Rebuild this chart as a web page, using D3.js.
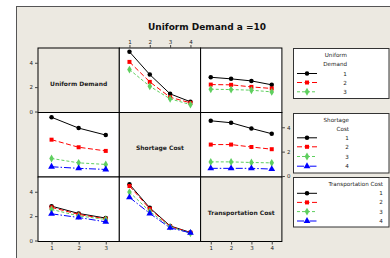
<!DOCTYPE html>
<html>
<head>
<meta charset="utf-8">
<script src="https://cdn.jsdelivr.net/npm/d3@7"></script>
<style>
  body { margin: 0; background: #fff; }
  svg { display: block; font-family: "DejaVu Sans", sans-serif; }
</style>
</head>
<body>
<svg id="chart" width="390" height="258"></svg>
<script>
const demandLevels = [1, 2, 3];
const shortageLevels = [1, 2, 3, 4];
const transportLevels = [1, 2, 3, 4];
const yTicks = [0, 2, 4];

const factorNames = ["Uniform Demand", "Shortage Cost", "Transportation Cost"];
const legendTitles = [["Uniform", "Demand"], ["Shortage", "Cost"], ["Transportation Cost"]];

// each list: one series per level of the row factor, values over the column factor
const demandByShortage = [
  [4.9, 3.03, 1.45, 0.8],
  [4.07, 2.43, 1.17, 0.71],
  [3.44, 2.07, 1.04, 0.57]
];
const demandByTransport = [
  [2.81, 2.68, 2.51, 2.19],
  [2.21, 2.19, 2.02, 1.89],
  [1.83, 1.8, 1.75, 1.61]
];
const shortageByDemand = [
  [4.82, 3.93, 3.36],
  [2.98, 2.36, 2.06],
  [1.44, 1.08, 0.95],
  [0.76, 0.63, 0.54]
];
const shortageByTransport = [
  [4.53, 4.37, 3.9, 3.47],
  [2.58, 2.58, 2.38, 2.2],
  [1.16, 1.16, 1.11, 1.08],
  [0.63, 0.63, 0.63, 0.57]
];
const transportByDemand = [
  [2.82, 2.22, 1.84],
  [2.72, 2.14, 1.78],
  [2.55, 2.02, 1.73],
  [2.19, 1.89, 1.53]
];
const transportByShortage = [
  [4.61, 2.68, 1.2, 0.66],
  [4.47, 2.6, 1.16, 0.64],
  [3.97, 2.39, 1.12, 0.6],
  [3.54, 2.22, 1.04, 0.63]
];

const levels = [demandLevels, shortageLevels, transportLevels];
const cells = {
  "0-1": demandByShortage, "0-2": demandByTransport,
  "1-0": shortageByDemand, "1-2": shortageByTransport,
  "2-0": transportByDemand, "2-1": transportByShortage
};

const colors = ["#000000", "#ff0000", "#5fcf5f", "#0000ff"];
const dashes = [null, "5,2.5", "3,2", "7,2,1.5,2"];
const symbols = [d3.symbolCircle, d3.symbolSquare, d3.symbolDiamond, d3.symbolTriangle];
const symSizes = [16, 16, 18, 20];
const beige = "#ece9e1";

const svg = d3.select("#chart");

// outer frame
svg.append("rect").attr("x", 16.5).attr("y", 6.5).attr("width", 400).attr("height", 270)
  .attr("fill", beige).attr("stroke", "#555").attr("stroke-width", 1);

svg.append("text").attr("x", 207).attr("y", 29.5).attr("text-anchor", "middle")
  .attr("font-size", 9).attr("font-weight", "bold").attr("fill", "#111")
  .text("Uniform Demand a =10");

const gx0 = 38, gy0 = 48, colW = 81.3, rowH = 64.5;

const xScales = levels.map((lv, c) => d3.scalePoint()
  .domain(lv).range([gx0 + c * colW, gx0 + (c + 1) * colW]).padding(0.5));
const yScales = [0, 1, 2].map(r => d3.scaleLinear()
  .domain([-0.08, 5.21]).range([gy0 + (r + 1) * rowH, gy0 + r * rowH]));

// panels
for (let r = 0; r < 3; r++) {
  for (let c = 0; c < 3; c++) {
    svg.append("rect")
      .attr("x", gx0 + c * colW).attr("y", gy0 + r * rowH)
      .attr("width", colW).attr("height", rowH)
      .attr("fill", r === c ? beige : "#fff")
      .attr("stroke", "#000").attr("stroke-width", 1);
    if (r === c) {
      svg.append("text")
        .attr("x", gx0 + c * colW + colW / 2).attr("y", gy0 + r * rowH + rowH / 2 + 5.5)
        .attr("text-anchor", "middle").attr("font-size", 6).attr("font-weight", "bold")
        .attr("fill", "#222").text(factorNames[r]);
    }
  }
}

// lines
Object.keys(cells).forEach(key => {
  const [r, c] = key.split("-").map(Number);
  const x = xScales[c], y = yScales[r];
  const g = svg.append("g");
  cells[key].forEach((vals, i) => {
    const pts = vals.map((v, j) => [x(levels[c][j]), y(v)]);
    g.append("path").datum(pts)
      .attr("d", d3.line())
      .attr("fill", "none").attr("stroke", colors[i]).attr("stroke-width", 1)
      .attr("stroke-dasharray", dashes[i]);
    g.selectAll(null).data(pts).enter().append("path")
      .attr("transform", d => "translate(" + d[0] + "," + d[1] + ")")
      .attr("d", d3.symbol().type(symbols[i]).size(symSizes[i]))
      .attr("fill", colors[i]);
  });
});

function styleAxis(g) {
  g.select(".domain").remove();
  g.selectAll("line").attr("stroke", "#444");
  g.selectAll("text").attr("font-size", 5.5).attr("fill", "#222")
    .attr("font-family", "DejaVu Sans, sans-serif");
}

const fmt = d3.format("d");
svg.append("g").attr("transform", "translate(" + gx0 + ",0)")
  .call(d3.axisLeft(yScales[0]).tickValues(yTicks).tickFormat(fmt).tickSize(3).tickPadding(2)).call(styleAxis);
svg.append("g").attr("transform", "translate(" + gx0 + ",0)")
  .call(d3.axisLeft(yScales[2]).tickValues(yTicks).tickFormat(fmt).tickSize(3).tickPadding(2)).call(styleAxis);
svg.append("g").attr("transform", "translate(" + (gx0 + 3 * colW) + ",0)")
  .call(d3.axisRight(yScales[1]).tickValues(yTicks).tickFormat(fmt).tickSize(3).tickPadding(2)).call(styleAxis);
svg.append("g").attr("transform", "translate(0," + gy0 + ")")
  .call(d3.axisTop(xScales[1]).tickSize(3).tickPadding(1.5)).call(styleAxis);
[0, 2].forEach(c => {
  svg.append("g").attr("transform", "translate(0," + (gy0 + 3 * rowH) + ")")
    .call(d3.axisBottom(xScales[c]).tickSize(3).tickPadding(2)).call(styleAxis);
});

// legends
const legendBoxes = [
  { y: 48.5, h: 50, titleX: 347, labelX: 345, titleY: [57, 66], itemY: [73.5, 82.5, 91.8] },
  { y: 113.5, h: 59.5, titleX: 349, labelX: 347, titleY: [122, 130.5], itemY: [137.8, 146.8, 156.5, 166.2] },
  { y: 177.5, h: 49.5, titleX: 383, labelX: 381, titleY: [185.5], itemY: [193.3, 202.4, 211.6, 221] }
];

legendBoxes.forEach((b, k) => {
  const g = svg.append("g");
  g.append("rect").attr("x", 293.5).attr("y", b.y).attr("width", 95.5).attr("height", b.h)
    .attr("fill", "#fff").attr("stroke", "#333").attr("stroke-width", 1);
  legendTitles[k].forEach((t, i) => {
    g.append("text").attr("x", b.titleX).attr("y", b.titleY[i]).attr("text-anchor", "end")
      .attr("font-size", 5.6).attr("fill", "#222").text(t);
  });
  levels[k].forEach((lv, i) => {
    const yy = b.itemY[i];
    g.append("line").attr("x1", 297).attr("x2", 317).attr("y1", yy).attr("y2", yy)
      .attr("stroke", colors[i]).attr("stroke-width", 1).attr("stroke-dasharray", dashes[i]);
    g.append("path").attr("transform", "translate(307," + yy + ")")
      .attr("d", d3.symbol().type(symbols[i]).size(symSizes[i]))
      .attr("fill", colors[i]);
    g.append("text").attr("x", b.labelX).attr("y", yy + 2).attr("text-anchor", "middle")
      .attr("font-size", 5.6).attr("fill", "#222").text(lv);
  });
});
</script>
</body>
</html>
